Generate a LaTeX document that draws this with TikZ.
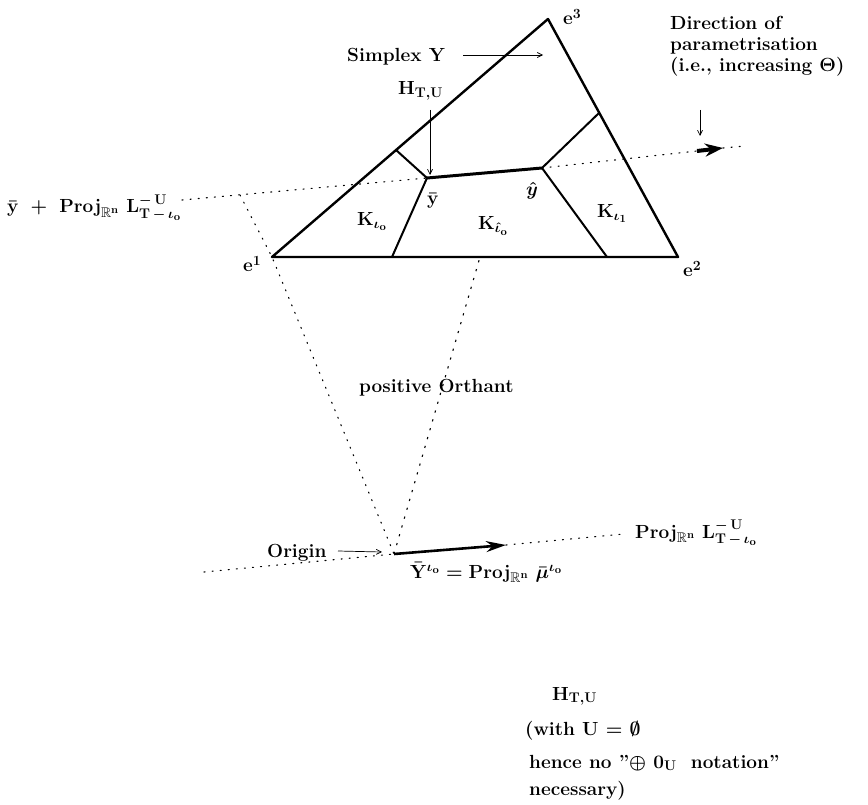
\documentclass[tikz,border=0pt]{standalone}
\usepackage{fix-cm}
\usepackage{amssymb}
\DeclareMathSizes{19}{19}{14}{11}
\usetikzlibrary{arrows.meta}
\begin{document}
\begin{tikzpicture}[x=1pt,y=-1pt,
  lab/.style={font=\fontsize{19}{23}\selectfont\bfseries\boldmath, inner sep=0pt, anchor=base west},
  edgethick/.style={line width=2.4pt, line cap=round, line join=round},
  inneredge/.style={line width=2pt, line cap=round},
  dots/.style={line width=1.1pt, dash pattern=on 1.1pt off 7pt, line cap=round},
  dashes/.style={line width=1.1pt, dash pattern=on 2.2pt off 7pt},
  thinarrow/.style={line width=0.7pt, -{Straight Barb[length=5pt,width=5pt]}},
]
\useasboundingbox (0,0) rectangle (868,805);
% vertices
\coordinate (e1) at (272,257);
\coordinate (e2) at (678,257);
\coordinate (e3) at (548,19);
\coordinate (ybar) at (427,178);
\coordinate (yhat) at (542,168);
\coordinate (A) at (396,150);
\coordinate (B) at (599,113);
\coordinate (C) at (392,257);
\coordinate (D) at (607,257);
\coordinate (L0) at (182,200);
\coordinate (Q) at (240,195);
\coordinate (R0) at (697,151);
\coordinate (R1) at (723,148);
\coordinate (R2) at (745,146);
\coordinate (O) at (394,554);
\coordinate (M) at (480,257);
\coordinate (Ptip) at (506,545);
\coordinate (Pend) at (624,534);
\coordinate (Lft) at (204,572);
\coordinate (sstart) at (463,55);
\coordinate (sarrow) at (543,55);
\coordinate (hstart) at (430,110);
\coordinate (hend) at (430,175);
\coordinate (d1) at (700,110);
\coordinate (d2) at (700,136);
\coordinate (ostart) at (338,551);
\coordinate (oarrow) at (382,552);

% simplex
\draw[edgethick] (e1) -- (e2) -- (e3) -- cycle;
\draw[inneredge] (A) -- (ybar) -- (C);
\draw[inneredge] (yhat) -- (B);
\draw[inneredge] (yhat) -- (D);
\draw[line width=3pt, line cap=round] (ybar) -- (yhat);

% dotted parametrisation line
\draw[dots] (L0) -- (ybar);
\draw[dots] (yhat) -- (R0);
\draw[dots] (R1) -- (R2);
\draw[line width=4pt, -{Stealth[length=18pt,width=13pt]}] (R0) -- (R1);

% orthant lines
\draw[dots] (Q) -- (e1) -- (O);
\draw[dashes] (O) -- (M);

% bottom line
\draw[dots] (Lft) -- (O);
\draw[line width=2.6pt, -{Stealth[length=20pt,width=11pt]}] (O) -- (Ptip);
\draw[dots] (Ptip) -- (Pend);

% labels
\node[lab] (simp) at (347,62) {Simplex Y};
\draw[thinarrow] (sstart) -- (sarrow);
\node[lab] (htu) at (398,95) {$\mathrm{H}_{\mathrm{T,U}}$};
\draw[thinarrow] (hstart) -- (hend);
\node[lab, anchor=center] (ybl) at (433,201) {$\bar{\mathrm{y}}$};
\node[lab, anchor=center] (yhl) at (532,191) {$\hat{y}$};
\node[lab] (k0) at (357,226) {$\mathrm{K}_{\iota_{\mathrm{o}}}$};
\node[lab] (kh) at (478,230) {$\mathrm{K}_{\hat{\iota}_{\mathrm{o}}}$};
\node[lab] (k1) at (597,218) {$\mathrm{K}_{\iota_{1}}$};
\node[lab] (le1) at (243,272) {e$^{1}$};
\node[lab] (le2) at (683,277) {e$^{2}$};
\node[lab] (le3) at (563,25) {e$^{3}$};
\node[lab] (dir1) at (670,30) {Direction of};
\node[lab] (dir2) at (670,51) {parametrisation};
\node[lab] (dir3) at (670,72) {(i.e., increasing $\Theta$)};
\draw[thinarrow] (d1) -- (d2);
\node[lab] (left) at (7,213) {$\bar{\mathrm{y}}\ +\ \mathrm{Proj}_{\mathbb{R}^{\mathrm{n}}}\ \mathrm{L}^{-\,\mathrm{U}}_{\mathrm{T}\,-\,\iota_{\mathrm{o}}}$};
\node[lab] (orth) at (359,392) {positive Orthant};
\node[lab] (orig) at (267,557) {Origin};
\draw[thinarrow] (ostart) -- (oarrow);
\node[lab] (ybarb) at (410,578) {$\bar{\mathrm{Y}}^{\iota_{\mathrm{o}}} = \mathrm{Proj}_{\mathbb{R}^{\mathrm{n}}}\ \bar{\mu}^{\iota_{\mathrm{o}}}$};
\node[lab] (projr) at (635,538) {$\mathrm{Proj}_{\mathbb{R}^{\mathrm{n}}}\ \mathrm{L}^{-\,\mathrm{U}}_{\mathrm{T}\,-\,\iota_{\mathrm{o}}}$};
\node[lab] (b1) at (552,700) {$\mathrm{H}_{\mathrm{T,U}}$};
\node[lab] (b2) at (525,735) {(with U = $\emptyset$};
\node[lab] (b3) at (529,768) {hence no ''$\oplus$ $0_{\mathrm{U}}$ \ notation''};
\node[lab] (b4) at (529,795) {necessary)};
\end{tikzpicture}
\end{document}
